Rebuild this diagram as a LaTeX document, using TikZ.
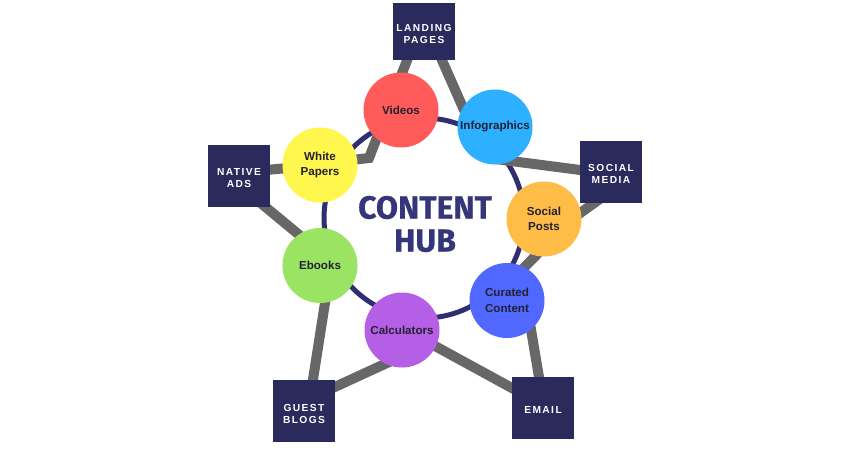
\documentclass[tikz,border=0pt]{standalone}
\usepackage{fontspec}
\setmainfont{Liberation Sans}
\newfontfamily\sqfont[LetterSpace=14]{Liberation Sans}
\newfontfamily\hubfont[BoldFeatures={FakeBold=0.6}]{Fira Sans}
\definecolor{navysq}{HTML}{2B2A5C}
\definecolor{ringc}{HTML}{2F2E70}
\definecolor{hubc}{HTML}{35357A}
\definecolor{grayln}{HTML}{676767}
\definecolor{labc}{HTML}{222230}
\definecolor{cVideos}{HTML}{FF5B5B}
\definecolor{cInfo}{HTML}{2DB0FF}
\definecolor{cWhite}{HTML}{FFF64E}
\definecolor{cEbooks}{HTML}{9AE363}
\definecolor{cSocial}{HTML}{FFBC47}
\definecolor{cCurated}{HTML}{5068FF}
\definecolor{cCalc}{HTML}{B55FE6}
\newcommand{\sqlabel}[1]{\raisebox{-6.3pt}[0pt][0pt]{\begin{tabular}{@{}c@{}}#1\end{tabular}}}
\begin{document}
\begin{tikzpicture}[x=1pt,y=-1pt,
  graylink/.style={draw=grayln,line width=10pt,line join=miter},
  ringline/.style={draw=ringc,line width=5pt},
  hubitem/.style={circle,minimum size=75pt,inner sep=0pt,align=center,text=labc,
    font=\bfseries\fontsize{11.6}{15.5}\selectfont},
  channel/.style={rectangle,fill=navysq,minimum width=62pt,minimum height=62pt,inner sep=0pt,
    text=white,font=\sqfont\bfseries\fontsize{10.2}{12}\selectfont}]
\useasboundingbox (0,0) rectangle (850,450);
\fill[white] (0,0) rectangle (850,450);
% ring
\coordinate (hubc) at (424,218);
\draw[ringline] (hubc) circle[radius=100pt];
% gray connector coordinates
\coordinate (l1a) at (413,45);
\coordinate (l1b) at (369,158);
\coordinate (l1c) at (335,162);
\coordinate (l2a) at (433,40);
\coordinate (l2b) at (472,128);
\coordinate (s1a) at (611,174);
\coordinate (s1b) at (488,158);
\coordinate (s2a) at (611,191);
\coordinate (s2b) at (555,231);
\coordinate (p1a) at (555,236);
\coordinate (p1b) at (510,282);
\coordinate (e1a) at (526,300);
\coordinate (e1b) at (542,395);
\coordinate (e2a) at (402,328);
\coordinate (e2b) at (543,405);
\coordinate (g1a) at (300,403);
\coordinate (g1b) at (400,357);
\coordinate (g2a) at (309,405);
\coordinate (g2b) at (327,290);
\coordinate (n1a) at (245,190);
\coordinate (n1b) at (315,248);
\coordinate (n2a) at (255,171);
\coordinate (n2b) at (310,166);
\draw[graylink] (l1a) -- (l1b) -- (l1c);
\draw[graylink] (l2a) -- (l2b);
\draw[graylink] (s1a) -- (s1b);
\draw[graylink] (s2a) -- (s2b);
\draw[graylink] (p1a) -- (p1b);
\draw[graylink] (e1a) -- (e1b);
\draw[graylink] (e2a) -- (e2b);
\draw[graylink] (g1a) -- (g1b);
\draw[graylink] (g2a) -- (g2b);
\draw[graylink] (n1a) -- (n1b);
\draw[graylink] (n2a) -- (n2b);
% squares
\node[channel,minimum height=57pt] (landing) at (424,31.5) {\sqlabel{LANDING\\PAGES}};
\node[channel] (native) at (239,175.5) {\sqlabel{NATIVE\\ADS}};
\node[channel] (socialm) at (611,171.5) {\sqlabel{SOCIAL\\MEDIA}};
\node[channel] (guest) at (304,411) {\sqlabel{GUEST\\BLOGS}};
\node[channel] (email) at (543,407.5) {\sqlabel{EMAIL}};
% circles
\node[hubitem,fill=cVideos] (videos) at (401,110) {Videos};
\node[hubitem,fill=cInfo] (info) at (495,127) {Infographics};
\node[hubitem,fill=cWhite] (white) at (320,165) {White\\Papers};
\node[hubitem,fill=cEbooks] (ebooks) at (320,265.5) {Ebooks};
\node[hubitem,fill=cSocial] (socialp) at (544,219) {Social\\Posts};
\node[hubitem,fill=cCurated] (curated) at (507,300.5) {Curated\\Content};
\node[hubitem,fill=cCalc] (calc) at (402,330) {Calculators};
% title
\node[text=hubc,align=center,font=\hubfont\bfseries\fontsize{32}{33}\selectfont] (hub) at (425,224) {CONTENT\\HUB};
\end{tikzpicture}
\end{document}
